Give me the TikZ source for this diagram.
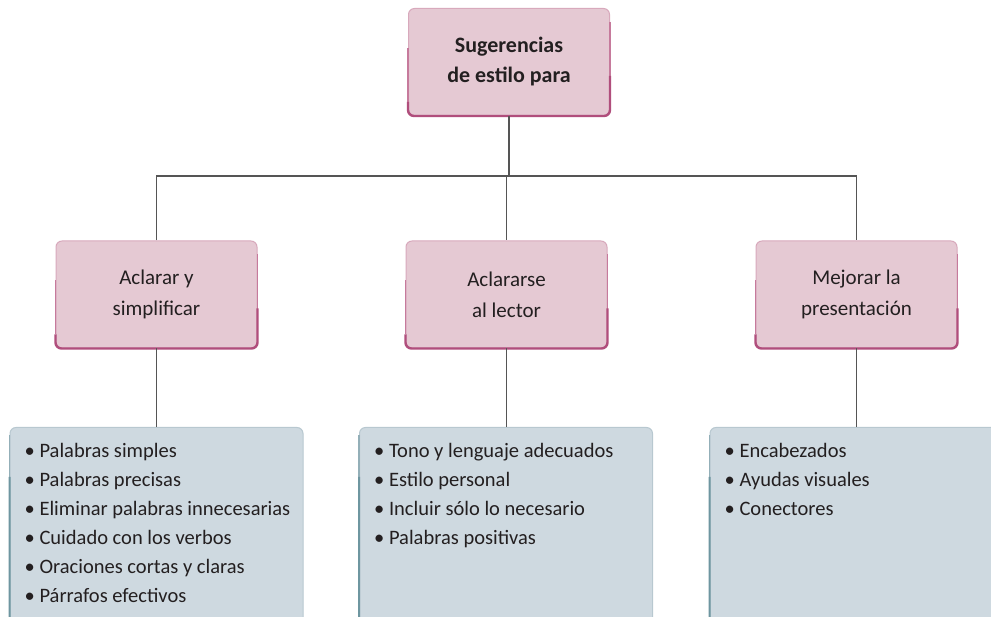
\documentclass[tikz,border=0pt]{standalone}
\usepackage{fontspec}
\setmainfont{Carlito}
\usetikzlibrary{calc}
\definecolor{pinkfill}{HTML}{E5C9D3}
\definecolor{pinkedge}{HTML}{D8A9BC}
\definecolor{pinkmid}{HTML}{C67A9C}
\definecolor{pinkdark}{HTML}{B04E7C}
\definecolor{bluefill}{HTML}{CED9E0}
\definecolor{blueedge}{HTML}{B8C8D0}
\definecolor{bluemid}{HTML}{93AFB8}
\definecolor{bluedark}{HTML}{6E96A0}
\definecolor{linegray}{HTML}{555555}
\definecolor{textgray}{HTML}{231F20}
\begin{document}
\begin{tikzpicture}[x=1pt,y=-1pt,
  pinkbox/.style={rounded corners=6pt, fill=pinkfill, draw=pinkedge, line width=1pt,
    minimum width=201pt, minimum height=107pt, inner sep=0pt, align=center,
    text=textgray, font=\fontsize{21}{31}\selectfont},
  bluebox/.style={rounded corners=6pt, fill=bluefill, draw=blueedge, line width=1pt,
    minimum width=293pt, minimum height=200pt, inner sep=0pt, anchor=north},
  listtext/.style={anchor=north west, align=left, inner sep=0pt, text=textgray,
    font=\fontsize{20.5}{29}\selectfont},
  pinkshade/.style={draw=pinkdark, line width=2.4pt, rounded corners=6pt},
  pinkshadem/.style={draw=pinkmid, line width=1.6pt},
  blueshade/.style={draw=bluedark, line width=2pt, rounded corners=6pt},
  blueshadem/.style={draw=bluemid, line width=1.5pt},
  conn/.style={draw=linegray, line width=1.6pt}]
\useasboundingbox (0,0) rectangle (991,617);
\clip (0,0) rectangle (991,617);
\fill[white] (0,0) rectangle (991,617);

% top box
\node[pinkbox, font=\fontsize{22}{30}\selectfont\bfseries] (top) at (509,62) {Sugerencias\\de estilo para};
% middle boxes
\node[pinkbox] (m1) at (156.5,294.5) {Aclarar y\\simplificar};
\node[pinkbox] (m2) at (506.5,294.5) {Aclararse\\al lector};
\node[pinkbox] (m3) at (856.5,294.5) {Mejorar la\\presentación};
% bottom boxes
\node[bluebox] (b1) at (156.5,427) {};
\node[bluebox] (b2) at (506,427) {};
\node[bluebox] (b3) at (856.5,427) {};

% shading edges
\foreach \n in {top,m1,m2,m3}{
  \draw[pinkshadem] ($(\n.north east)+(0,14)$) -- ($(\n.south east)+(0,-30)$);
  \draw[pinkshadem] ($(\n.north west)+(0,40)$) -- ($(\n.south west)+(0,-14)$);
  \draw[pinkshade] ($(\n.south west)+(0,-14)$) -- (\n.south west) -- (\n.south east) -- ($(\n.south east)+(0,-40)$);
}
\foreach \n in {b1,b2,b3}{
  \draw[blueshadem] ($(\n.north west)+(0,8)$) -- ($(\n.north west)+(0,60)$);
  \draw[blueshade] ($(\n.north west)+(0,50)$) -- (\n.south west) -- ($(\n.south west)+(14,0)$);
}

% list texts
\node[listtext] (t1) at ($(b1.north west)+(15,16)$) {%
• Palabras simples\\
• Palabras precisas\\
• Eliminar palabras innecesarias\\
• Cuidado con los verbos\\
• Oraciones cortas y claras\\
• Párrafos efectivos};
\node[listtext] (t2) at ($(b2.north west)+(15,16)$) {%
• Tono y lenguaje adecuados\\
• Estilo personal\\
• Incluir sólo lo necesario\\
• Palabras positivas};
\node[listtext] (t3) at ($(b3.north west)+(15,16)$) {%
• Encabezados\\
• Ayudas visuales\\
• Conectores};

% connectors
\coordinate (j) at (509,176);
\draw[conn] (top.south) -- (j);
\draw[conn] (m1.north) |- (j) -| (m3.north);
\draw[conn] (j) -| (m2.north);
\draw[conn] (m1.south) -- (m1.south |- b1.north);
\draw[conn] (m2.south) -- (m2.south |- b2.north);
\draw[conn] (m3.south) -- (m3.south |- b3.north);
\end{tikzpicture}
\end{document}
